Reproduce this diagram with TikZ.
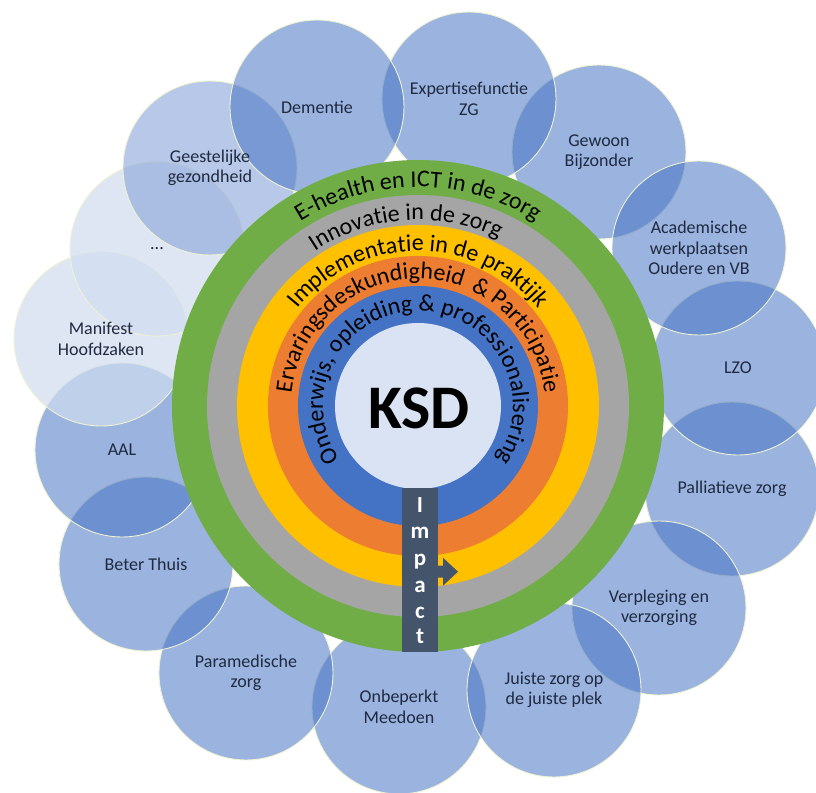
\documentclass[tikz,border=0pt]{standalone}
\usepackage{fontspec}
\setmainfont{Carlito}
\usetikzlibrary{decorations.text}

\definecolor{ringgreen}{HTML}{70AD47}
\definecolor{ringgray}{HTML}{A5A5A5}
\definecolor{ringyellow}{HTML}{FFC000}
\definecolor{ringorange}{HTML}{ED7D31}
\definecolor{ringblue}{HTML}{4472C4}
\definecolor{corefill}{HTML}{DAE3F3}
\definecolor{impactcol}{HTML}{44546A}
\definecolor{petalblue}{HTML}{4472C4}
\definecolor{petalpale}{HTML}{D0DCF0}
\definecolor{petalmid}{HTML}{85A0D7}
\definecolor{petaledge}{HTML}{EEF2D2}
\definecolor{petaltext}{HTML}{1F2A40}

\newcommand\ringfont{\fontsize{24}{28}\selectfont}

\tikzset{
  petal/.style={circle, inner sep=0pt, minimum size=174pt,
    fill=petalblue, fill opacity=0.54, draw=petaledge, line width=0.9pt},
  petalpale/.style={petal, fill=petalpale, fill opacity=0.7},
  petalsoft/.style={petal, fill=petalmid, fill opacity=0.58},
  petallabel/.style={align=center, text=petaltext, inner sep=0pt,
    font=\fontsize{18}{20.5}\selectfont},
  ringlabel/.style={decorate, decoration={text along path,
    text align={align=center}, text={|\ringfont|#1}}},
  impactletter/.style={anchor=base, text=white, inner sep=0pt,
    font=\fontsize{23}{26}\selectfont\bfseries},
}

\begin{document}
\begin{tikzpicture}[x=1pt, y=1pt]
\useasboundingbox (-418,-386) rectangle (398,406);
\clip (-418,-386) rectangle (398,406);

% outer circle of themes
\node[petal] (onbeperkt) at (-19,-301) {};
\node[petal] (paramedisch) at (-172,-267) {};
\node[petal] (beterthuis) at (-272,-158) {};
\node[petal] (aal) at (-296,-44) {};
\node[petalpale] (manifest) at (-317,67) {};
\node[petalpale] (dots) at (-261,157) {};
\node[petalsoft] (geestelijk) at (-208,238) {};
\node[petal] (palliatief) at (314,-83) {};
\node[petal] (verpleging) at (241,-202) {};
\node[petal] (juistezorg) at (136,-284) {};
\node[petal] (lzo) at (320,38) {};
\node[petal] (gewoon) at (181,254) {};
\node[petal] (academisch) at (281,158) {};
\node[petal] (expertise) at (51,307) {};
\node[petal] (dementie) at (-101,299) {};

\node[petallabel] at (onbeperkt) {Onbeperkt\\Meedoen};
\node[petallabel] at (paramedisch) {Paramedische\\zorg};
\node[petallabel] at (beterthuis) {Beter Thuis};
\node[petallabel] at (aal) {AAL};
\node[petallabel] at (manifest) {Manifest\\Hoofdzaken};
\node[petallabel] at (dots) {...};
\node[petallabel] at (geestelijk) {Geestelijke\\gezondheid};
\node[petallabel] at (palliatief) {Palliatieve zorg};
\node[petallabel] at (verpleging) {Verpleging en\\verzorging};
\node[petallabel] at (juistezorg) {Juiste zorg op\\de juiste plek};
\node[petallabel] at (lzo) {LZO};
\node[petallabel] at (gewoon) {Gewoon\\Bijzonder};
\node[petallabel] at (academisch) {Academische\\werkplaatsen\\Oudere en VB};
\node[petallabel] at (expertise) {Expertisefunctie\\ZG};
\node[petallabel] at (dementie) {Dementie};

% concentric rings
\fill[ringgreen] (0,0) circle[radius=246pt];
\fill[ringgray] (0,0) circle[radius=211pt];
\fill[ringyellow] (0,0) circle[radius=181pt];
\fill[ringorange] (0,0) circle[radius=150pt];
\fill[ringblue] (0,0) circle[radius=120pt];
\node[circle, fill=corefill, inner sep=0pt, minimum size=166pt] (core) at (0,0) {};

% ring captions
\path[ringlabel={E-health en ICT in de zorg}]
  (200:219pt) arc[start angle=200, end angle=-20, radius=219pt];
\path[ringlabel={Innovatie in de zorg}]
  (204:186pt) arc[start angle=204, end angle=-16, radius=186pt];
\path[ringlabel={Implementatie in de praktijk}]
  (200:155pt) arc[start angle=200, end angle=-20, radius=155pt];
\path[ringlabel={Ervaringsdeskundigheid{\kern4pt} {\&} Participatie}]
  (230:127pt) arc[start angle=230, end angle=-50, radius=127pt];
\path[ringlabel={Onderwijs, opleiding {\&} professionalisering}]
  (265:95pt) arc[start angle=265, end angle=-85, radius=95pt];

\node[inner sep=0pt, font=\fontsize{62}{70}\selectfont\bfseries] (ksd) at (1,-2) {KSD};

% impact bar with its arrow
\node[fill=impactcol, inner sep=0pt, minimum width=36pt, minimum height=164pt,
  anchor=north] (impactbar) at (2,-82) {};
\fill[impactcol] (20,-159.7) -- (25,-159.7) -- (25,-151.7) -- (40,-165.7)
  -- (25,-179.7) -- (25,-171.7) -- (20,-171.7) -- cycle;
\node[impactletter] (l1) at (2,-106) {I};
\node[impactletter] (l2) at (2,-132) {m};
\node[impactletter] (l3) at (2,-159) {p};
\node[impactletter] (l4) at (2,-186) {a};
\node[impactletter] (l5) at (2,-212) {c};
\node[impactletter] (l6) at (2,-237) {t};
\end{tikzpicture}
\end{document}
